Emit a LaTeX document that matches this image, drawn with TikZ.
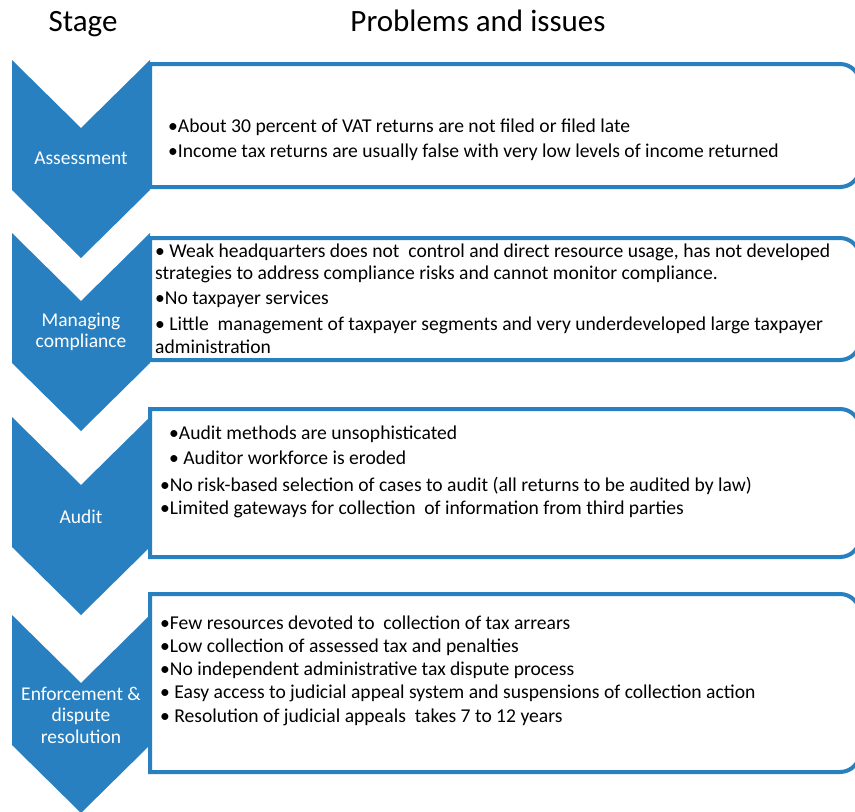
\documentclass[tikz,border=0pt]{standalone}
\usepackage{fontspec}
\setmainfont{Carlito}
\definecolor{chev}{RGB}{40,128,193}
\begin{document}
\begin{tikzpicture}[x=1pt,y=1pt,
  chevst/.style={fill=chev,draw=none},
  boxst/.style={draw=chev,line width=4pt,fill=white},
  body/.style={anchor=base west,inner sep=0pt,font=\fontsize{19.6}{23}\selectfont,text=black},
  lab/.style={text=white,align=center,inner sep=0pt,font=\fontsize{19.5}{21.5}\selectfont},
  ttl/.style={anchor=base,inner sep=0pt,font=\fontsize{31}{37}\selectfont,text=black}]
\useasboundingbox (0,0) rectangle (855,-812);
% chevrons
\foreach \t in {60,233,417,615}{
  \fill[chevst] (12,-\t) -- (81,{-\t-68}) -- (150,-\t) -- (150,{-\t-130})
     -- (81,{-\t-198}) -- (12,{-\t-130}) -- cycle;
}
% boxes
\foreach \t/\b in {64/187,238/360,409/557,594/772}{
  \draw[boxst] (150,-\t) -- (840,-\t) arc[start angle=90,end angle=0,radius=20]
     -- (860,{-\b+20}) arc[start angle=0,end angle=-90,radius=20] -- (150,-\b) -- cycle;
}
% titles
\node[ttl] (tstage) at (83,-31) {Stage};
\node[ttl] (tprob) at (478,-31) {Problems and issues};
% stage labels
\node[lab] (l1) at (81,-158) {Assessment};
\node[lab] (l2) at (81,-332) {Managing\\compliance};
\node[lab] (l3) at (81,-517) {Audit};
\node[lab] (l4) at (81,-715) {Enforcement \&\\dispute\\resolution};
% box 1
\node[body] (a1) at (168,-132) {•About 30 percent of VAT returns are not filed or filed late};
\node[body] (a2) at (168,-157) {•Income tax returns are usually false with very low levels of income returned};
% box 2
\node[body] (b1) at (155,-257) {• Weak headquarters does not~ control and direct resource usage, has not developed};
\node[body] (b2) at (155,-279) {strategies to address compliance risks and cannot monitor compliance.};
\node[body] (b3) at (155,-304) {•No taxpayer services};
\node[body] (b4) at (155,-330) {• Little~ management of taxpayer segments and very underdeveloped large taxpayer};
\node[body] (b5) at (155,-353) {administration};
% box 3
\node[body] (c1) at (169,-439) {•Audit methods are unsophisticated};
\node[body] (c2) at (169,-464) {• Auditor workforce is eroded};
\node[body] (c3) at (160,-491) {•No risk-based selection of cases to audit (all returns to be audited by law)};
\node[body] (c4) at (160,-514) {•Limited gateways for collection~ of information from third parties};
% box 4
\node[body] (d1) at (160,-629) {•Few resources devoted to~ collection of tax arrears};
\node[body] (d2) at (160,-652) {•Low collection of assessed tax and penalties};
\node[body] (d3) at (160,-675) {•No independent administrative tax dispute process};
\node[body] (d4) at (160,-698) {• Easy access to judicial appeal system and suspensions of collection action};
\node[body] (d5) at (160,-722) {• Resolution of judicial appeals~ takes 7 to 12 years};
\end{tikzpicture}
\end{document}
